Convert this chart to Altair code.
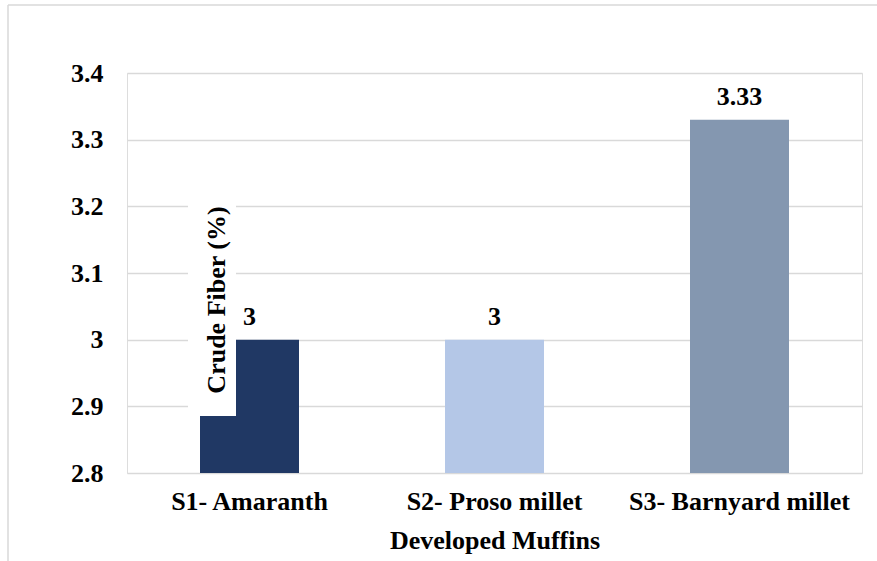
import altair as alt
import pandas as pd

# Crude fiber content of the developed muffins
samples = ["S1- Amaranth", "S2- Proso millet", "S3- Barnyard millet"]
fiber = [3.0, 3.0, 3.33]
fiber_labels = ["3", "3", "3.33"]
bar_colors = ["#203864", "#B4C7E7", "#8497B0"]

df = pd.DataFrame({"sample": samples, "fiber": fiber, "label": fiber_labels})

FONT = "Liberation Serif"
GRID = "#D9D9D9"

x_enc = alt.X(
    "sample:N",
    sort=samples,
    scale=alt.Scale(paddingInner=0, paddingOuter=0),
    axis=alt.Axis(
        title="Developed Muffins",
        labelAngle=0,
        labelFont=FONT,
        labelFontSize=26,
        labelFontWeight="bold",
        labelColor="black",
        labelPadding=15,
        labelLimit=0,
        titleFont=FONT,
        titleFontSize=26,
        titleFontWeight="bold",
        titleColor="black",
        titlePadding=13,
        ticks=False,
        tickSize=0,
        domain=False,
        grid=False,
    ),
)

y_scale = alt.Scale(domain=[2.8, 3.4], zero=False, nice=False)

bars = alt.Chart(df).mark_bar(width=99, clip=True).encode(
    x=x_enc,
    y=alt.Y(
        "fiber:Q",
        scale=y_scale,
        axis=alt.Axis(
            title=None,
            values=[2.8, 2.9, 3.0, 3.1, 3.2, 3.3, 3.4],
            labelExpr="format(datum.value, '.1~f')",
            labelFont=FONT,
            labelFontSize=26,
            labelFontWeight="bold",
            labelColor="black",
            labelPadding=24,
            ticks=False,
            tickSize=0,
            domain=False,
            grid=True,
            gridColor=GRID,
            gridWidth=1.5,
        ),
    ),
    y2=alt.datum(2.8),
    color=alt.Color("sample:N", scale=alt.Scale(domain=samples, range=bar_colors), legend=None),
)

values = alt.Chart(df).mark_text(
    font=FONT, fontSize=26, fontWeight="bold", color="black", baseline="alphabetic", dy=-15
).encode(
    x=alt.X("sample:N", sort=samples),
    y=alt.Y("fiber:Q", scale=y_scale),
    text="label:N",
)

# Axis title sits inside the plot on a white box, as in the original figure
one = alt.Data(values=[{}])
title_box = alt.Chart(one).mark_rect(color="white").encode(
    x=alt.value(61), x2=alt.value(109), y=alt.value(127), y2=alt.value(343)
)
y_title = alt.Chart(one).mark_text(
    text="Crude Fiber (%)", font=FONT, fontSize=26, fontWeight="bold",
    color="black", angle=270, align="center", baseline="middle",
).encode(x=alt.value(90), y=alt.value(227))

# Outer chart-area border (top and left edges)
border_top = alt.Chart(one).mark_rule(color=GRID, strokeWidth=1.5).encode(
    x=alt.value(-119), x2=alt.value(750), y=alt.value(-68)
)
border_left = alt.Chart(one).mark_rule(color=GRID, strokeWidth=1.5).encode(
    x=alt.value(-119), y=alt.value(-68), y2=alt.value(488)
)

chart = alt.layer(bars, values, title_box, y_title, border_top, border_left).properties(
    width=735,
    height=400,
    autosize=alt.AutoSizeParams(type="none"),
    padding={"left": 127, "top": 73, "right": 15, "bottom": 88},
).configure_view(stroke=None).configure(background="white")

chart.save("out.html", embed_options={"renderer": "svg", "actions": False})
